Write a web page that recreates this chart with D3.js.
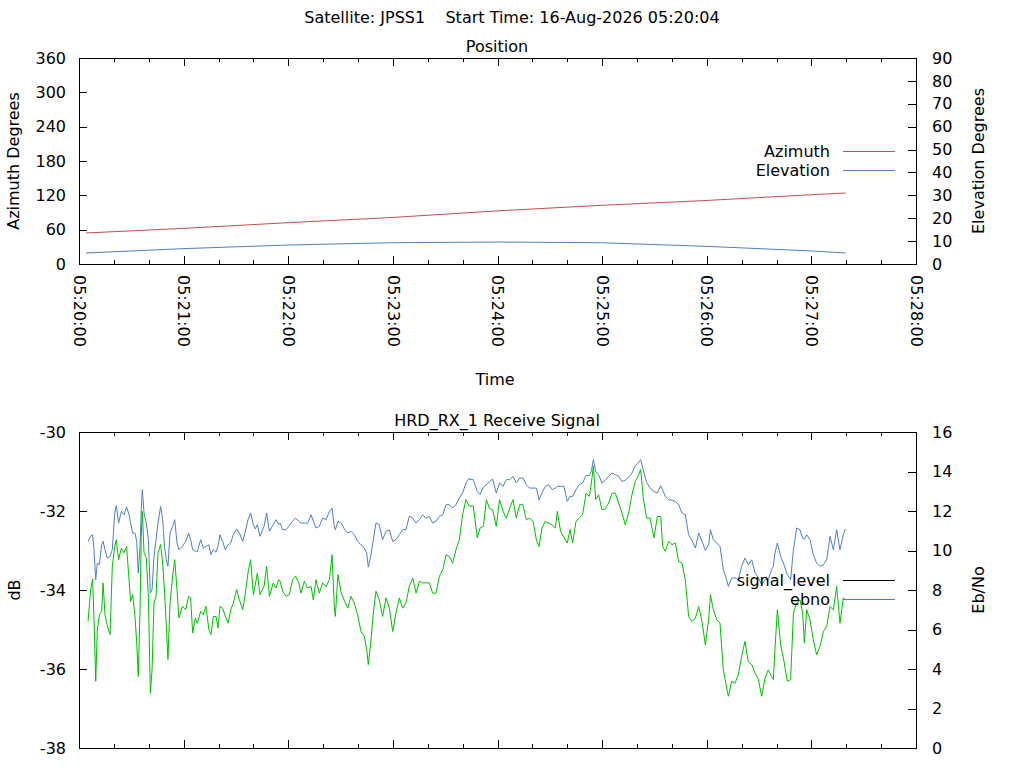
<!DOCTYPE html>
<html>
<head>
<meta charset="utf-8">
<script src="https://cdn.jsdelivr.net/npm/d3@7"></script>
<style>
  body { margin: 0; background: #fff; }
  svg text { font-family: "DejaVu Sans", sans-serif; font-size: 16px; fill: #000; }
</style>
</head>
<body>
<svg id="chart" width="1024" height="768"></svg>
<script>
// seconds after 05:20:00 for the position readings
const posSec = [4.0, 59.5, 120.0, 180.2, 241.4, 298.8, 360.3, 420.0, 439.7];
const azimuth = [54.2, 62.2, 72.2, 81.4, 93.1, 102.4, 111.1, 121.1, 124.1];
const elevation = [4.8, 6.7, 8.3, 9.3, 9.6, 9.3, 7.7, 5.7, 4.8];

// seconds after 05:20:00 for the receiver readings
const sigSec = [
  5.2, 6.7, 7.8, 8.6, 9.6, 10.5, 11.7, 13.0, 13.8, 14.9,
  16.2, 17.8, 19.1, 20.5, 21.4, 22.7, 24.3, 25.8, 27.3, 28.7,
  29.6, 30.8, 32.1, 33.1, 34.0, 35.0, 35.7, 36.3, 37.3, 38.6,
  39.8, 40.9, 41.9, 43.0, 44.2, 45.3, 46.8, 48.0, 49.1, 50.1,
  51.0, 52.2, 53.7, 54.9, 56.2, 57.3, 59.3, 61.2, 62.9, 64.0,
  65.2, 66.7, 67.9, 69.8, 71.3, 72.8, 74.5, 75.7, 77.0, 78.6,
  79.7, 80.9, 82.4, 83.9, 85.5, 87.0, 88.5, 90.4, 92.0, 93.9,
  95.4, 96.9, 98.4, 100.0, 101.1, 102.3, 103.8, 106.1, 107.6, 109.2,
  111.4, 113.0, 114.5,
  115.3, 116.8, 118.7, 120.6, 122.5, 124.1, 126.0, 127.3, 129.2, 131.1,
  133.1, 134.4, 135.9, 137.8, 139.7, 141.7, 143.6, 145.1, 146.4, 147.0,
  148.5, 150.4, 152.4, 154.1, 156.0, 157.9, 159.8, 161.7, 163.6, 165.0,
  165.9, 167.3, 168.8, 170.3, 172.2, 174.1, 176.1, 178.0, 179.9, 181.8,
  183.7, 185.6, 187.5, 189.4, 191.4, 193.3, 195.2, 197.1, 199.0, 200.9,
  202.8, 204.7, 206.7, 208.6, 210.5, 212.4, 214.3, 216.2, 218.1, 220.0,
  221.9, 223.9,
  224.2, 226.1, 228.4, 230.0, 231.9, 233.6, 235.3, 237.2, 239.3, 241.2,
  243.2, 245.1, 247.0, 248.9, 250.8, 252.7, 254.6, 256.5, 258.4, 260.4,
  262.3, 263.8, 265.5, 267.4, 269.3, 271.3, 273.2, 274.3, 276.2, 278.1,
  280.0, 281.6, 283.1, 285.0, 286.9, 288.8, 290.8, 292.7, 293.8, 295.0,
  296.3, 298.0, 299.9, 301.8, 303.7, 305.7, 307.6, 309.5, 311.4, 313.3,
  315.2, 317.1, 319.0, 320.6, 322.1, 323.6, 325.5, 327.5, 329.7, 331.7,
  333.6,
  334.7, 336.2, 338.2, 340.1, 342.0, 343.9, 345.8, 347.7, 349.6, 351.5,
  353.5, 355.4, 357.3, 359.2, 361.1, 362.1, 363.8, 365.7, 367.6, 369.5,
  371.4, 372.4, 374.3, 376.2, 378.1, 380.0, 381.9, 383.8, 385.8, 387.7,
  389.6, 391.5, 393.4, 395.3, 397.2, 398.2, 399.1, 400.5, 402.4, 404.3,
  406.2, 408.1, 409.7, 411.6, 413.5, 415.0, 416.0, 417.3, 419.2, 421.1,
  423.0, 424.9, 426.9, 428.8, 430.7, 432.6, 434.5, 436.4, 438.3, 439.5
];

const ebno = [
  10.46, 10.72, 10.80, 10.04, 8.52, 9.37, 9.28, 10.29, 10.46, 10.04,
  9.62, 9.70, 10.04, 11.90, 12.27, 11.39, 11.98, 11.81, 12.20, 11.81,
  11.39, 10.88, 10.88, 10.46, 8.86, 10.21, 12.07, 13.08, 11.90, 11.39,
  10.55, 7.85, 8.02, 9.70, 10.55, 11.39, 12.23, 11.56, 10.12, 9.53,
  9.20, 10.88, 11.22, 11.56, 10.38, 10.04, 10.21, 10.46, 10.88, 10.55,
  10.04, 9.96, 9.96, 10.55, 10.12, 10.21, 10.29, 9.79, 10.04, 9.91,
  10.21, 10.80, 10.46, 10.04, 10.29, 10.38, 10.80, 11.09, 10.88, 10.46,
  10.97, 11.56, 11.90, 11.31, 11.09, 11.31, 10.72, 11.22, 11.90, 10.97,
  11.31, 11.56, 11.31,
  11.39, 11.05, 11.05, 11.26, 11.48, 11.64, 11.48, 11.39, 11.39, 11.39,
  11.81, 11.48, 11.14, 11.22, 11.64, 11.56, 11.98, 12.15, 11.22, 11.05,
  11.48, 11.39, 11.05, 10.88, 10.97, 10.80, 10.46, 10.29, 10.13, 9.87,
  9.16, 9.70, 10.55, 11.39, 11.31, 10.55, 10.97, 11.05, 10.46, 10.55,
  10.80, 11.05, 11.05, 11.73, 11.64, 11.39, 11.56, 11.81, 11.64, 11.73,
  11.39, 11.48, 11.73, 11.81, 12.32, 12.32, 12.15, 12.32, 12.66, 12.91,
  13.42, 13.67,
  13.59, 13.59, 12.99, 12.83, 13.21, 13.33, 13.47, 13.62, 12.91, 13.42,
  13.25, 13.59, 13.59, 13.75, 13.42, 13.67, 13.67, 13.33, 13.16, 13.16,
  13.16, 12.57, 12.91, 13.25, 13.33, 13.08, 13.16, 13.25, 13.25, 13.25,
  12.49, 12.74, 12.74, 13.08, 13.33, 13.42, 13.79, 13.79, 14.01, 14.60,
  14.01, 13.84, 13.42, 13.55, 13.75, 13.92, 13.84, 13.75, 13.50, 13.55,
  13.72, 13.92, 14.29, 14.43, 14.60, 14.09, 13.45, 13.16, 12.99, 12.91,
  13.28,
  13.08, 12.74, 12.57, 12.54, 12.49, 12.32, 11.90, 11.81, 10.80, 10.51,
  10.13, 10.89, 10.46, 10.01, 10.29, 11.05, 10.55, 10.38, 10.21, 9.03,
  8.52, 8.18, 8.61, 8.61, 8.52, 9.20, 9.62, 9.28, 9.53, 8.86,
  8.61, 8.27, 8.52, 8.52, 9.03, 9.20, 9.87, 10.38, 9.70, 9.28,
  8.78, 8.52, 10.04, 11.14, 11.05, 10.63, 10.58, 10.80, 10.55, 9.79,
  9.37, 9.20, 9.28, 9.53, 10.72, 10.04, 11.05, 10.04, 10.80, 11.09
];

const signalLevel = [
  -34.79, -33.99, -33.72, -34.75, -36.31, -35.01, -34.63, -34.54, -33.82, -34.63,
  -34.90, -35.13, -33.40, -32.90, -32.73, -33.23, -32.94, -33.06, -32.90, -33.74,
  -34.29, -34.12, -34.67, -35.34, -36.19, -34.50, -32.64, -32.01, -33.06, -33.19,
  -34.16, -36.61, -36.02, -34.33, -34.16, -33.06, -32.85, -33.32, -34.08, -34.92,
  -35.76, -34.33, -33.65, -33.23, -33.99, -34.71, -34.41, -34.50, -34.16, -34.20,
  -35.09, -34.71, -34.84, -34.54, -34.63, -34.41, -35.01, -35.13, -34.67, -34.67,
  -34.96, -34.41, -34.46, -34.67, -34.84, -34.50, -34.33, -33.99, -34.25, -34.50,
  -34.08, -33.57, -33.23, -34.12, -33.87, -33.57, -34.12, -33.91, -33.40, -34.16,
  -33.82, -33.95, -33.74,
  -33.78, -34.03, -34.16, -34.12, -33.74, -33.65, -33.81, -34.08, -33.78, -33.95,
  -33.91, -34.25, -33.74, -34.08, -33.82, -33.91, -33.74, -33.11, -34.41, -34.67,
  -33.61, -34.08, -34.29, -34.46, -34.16, -34.33, -34.63, -35.05, -35.17, -35.51,
  -35.89, -35.34, -34.58, -34.03, -34.25, -34.67, -34.20, -34.46, -35.05, -34.58,
  -34.20, -34.46, -34.33, -33.91, -33.70, -34.08, -33.78, -33.82, -33.82, -33.82,
  -34.08, -34.08, -33.65, -33.49, -33.11, -33.15, -33.32, -32.98, -32.73, -32.09,
  -31.71, -31.88,
  -31.88, -31.87, -32.68, -32.43, -32.39, -31.71, -31.93, -31.97, -32.39, -31.71,
  -32.01, -32.18, -31.93, -31.71, -32.18, -31.84, -31.84, -32.22, -32.18, -32.26,
  -32.73, -32.90, -32.43, -32.26, -32.31, -32.35, -32.43, -32.01, -32.52, -32.68,
  -32.81, -32.47, -32.81, -32.26, -32.18, -32.09, -31.55, -31.63, -31.29, -30.87,
  -31.71, -31.59, -31.97, -31.95, -31.80, -31.55, -31.55, -31.80, -32.05, -32.35,
  -32.05, -31.59, -31.25, -31.12, -30.95, -31.67, -32.18, -32.18, -32.68, -32.14,
  -32.14,
  -32.90, -33.02, -32.77, -32.85, -32.81, -33.28, -33.32, -33.74, -34.67, -34.80,
  -34.71, -34.42, -34.80, -35.39, -34.75, -34.12, -34.50, -34.75, -34.84, -36.02,
  -36.48, -36.69, -36.31, -36.36, -36.15, -35.68, -35.30, -35.81, -35.89, -36.10,
  -36.27, -36.69, -36.23, -36.02, -36.19, -36.27, -35.51, -34.50, -35.39, -35.81,
  -36.31, -36.27, -34.58, -34.33, -34.25, -34.58, -35.34, -34.50, -34.75, -35.26,
  -35.64, -35.43, -35.05, -34.92, -34.42, -34.50, -33.91, -34.84, -34.20, -34.25
];

const azTicks = [0, 60, 120, 180, 240, 300, 360];
const elTicks = [0, 10, 20, 30, 40, 50, 60, 70, 80, 90];
const dbTicks = [-38, -36, -34, -32, -30];
const ebnoTicks = [0, 2, 4, 6, 8, 10, 12, 14, 16];

const svg = d3.select("#chart");

const t0 = new Date(Date.UTC(2026, 7, 16, 5, 20, 0));
const atSec = s => new Date(t0.getTime() + s * 1000);
const fmtTime = d3.utcFormat("%H:%M:%S");
const plainNum = d => String(d); // keeps the ASCII hyphen for negatives

const left = 79, right = 916;
const x = d3.scaleUtc().domain([t0, atSec(480)]).range([left, right]);

const top1 = { top: 58, bottom: 264 };
const top2 = { top: 432, bottom: 748 };

const yAz = d3.scaleLinear().domain([0, 360]).range([top1.bottom, top1.top]);
const yEl = d3.scaleLinear().domain([0, 90]).range([top1.bottom, top1.top]);
const yDb = d3.scaleLinear().domain([-38, -30]).range([top2.bottom, top2.top]);
const yEb = d3.scaleLinear().domain([0, 16]).range([top2.bottom, top2.top]);

const colRed = "#c0504d", colBlue = "#4f7fbf", colGreen = "#00c000";

function styleAxis(g) {
  g.select(".domain").remove();
  g.selectAll(".tick line").attr("stroke", "#000").attr("shape-rendering", "crispEdges");
  g.selectAll("text").attr("fill", "#000").style("font-size", "16px").style("font-family", "\"DejaVu Sans\", sans-serif");
}

function drawFrame(p, yl, yr, lTicks, rTicks, withLabels) {
  const h = p.bottom - p.top;

  // time ticks, minor every 20 s and major every minute, on bottom and top edges
  const minorB = svg.append("g").attr("transform", `translate(0,${p.bottom})`)
    .call(d3.axisBottom(x).ticks(d3.utcSecond.every(20)).tickSize(-4).tickFormat(""));
  styleAxis(minorB);
  const minorT = svg.append("g").attr("transform", `translate(0,${p.top})`)
    .call(d3.axisTop(x).ticks(d3.utcSecond.every(20)).tickSize(-4).tickFormat(""));
  styleAxis(minorT);

  const majorB = svg.append("g").attr("transform", `translate(0,${p.bottom})`)
    .call(d3.axisBottom(x).ticks(d3.utcMinute.every(1)).tickSize(-8)
      .tickFormat(withLabels ? fmtTime : ""));
  styleAxis(majorB);
  if (withLabels) {
    majorB.selectAll(".tick text")
      .attr("transform", "rotate(90)")
      .attr("x", 11)
      .attr("y", 0)
      .attr("dy", "0.36em")
      .attr("text-anchor", "start");
  }
  const majorT = svg.append("g").attr("transform", `translate(0,${p.top})`)
    .call(d3.axisTop(x).ticks(d3.utcMinute.every(1)).tickSize(-8).tickFormat(""));
  styleAxis(majorT);

  const la = svg.append("g").attr("transform", `translate(${left},0)`)
    .call(d3.axisLeft(yl).tickValues(lTicks).tickSize(-8).tickPadding(13).tickFormat(plainNum));
  styleAxis(la);
  const ra = svg.append("g").attr("transform", `translate(${right},0)`)
    .call(d3.axisRight(yr).tickValues(rTicks).tickSize(-8).tickPadding(16).tickFormat(plainNum));
  styleAxis(ra);

  svg.append("rect")
    .attr("x", left + 0.5).attr("y", p.top + 0.5)
    .attr("width", right - left).attr("height", h)
    .attr("fill", "none").attr("stroke", "#000").attr("stroke-width", 1)
    .attr("shape-rendering", "crispEdges");
}

function label(txt, xPos, yPos, rot) {
  const t = svg.append("text")
    .attr("text-anchor", "middle")
    .attr("dominant-baseline", "central")
    .style("white-space", "pre")
    .text(txt);
  if (rot) t.attr("transform", `translate(${xPos},${yPos}) rotate(${rot})`);
  else t.attr("x", xPos).attr("y", yPos);
  return t;
}

// titles and axis names
label("Satellite: JPSS1    Start Time: 16-Aug-2026 05:20:04", 512, 17);
label("Position", 497, 46);
label("Time", 495, 379);
label("HRD_RX_1 Receive Signal", 497, 420);
label("Azimuth Degrees", 13, 161, -90);
label("Elevation Degrees", 978, 161, -90);
label("dB", 14, 590, -90);
label("Eb/No", 978, 590, -90);

drawFrame(top1, yAz, yEl, azTicks, elTicks, true);
drawFrame(top2, yDb, yEb, dbTicks, ebnoTicks, false);

// position lines
const azData = posSec.map((s, i) => ({ t: atSec(s), v: azimuth[i] }));
const elData = posSec.map((s, i) => ({ t: atSec(s), v: elevation[i] }));

svg.append("path").datum(azData)
  .attr("fill", "none").attr("stroke", colRed).attr("stroke-width", 1)
  .attr("d", d3.line().x(d => x(d.t)).y(d => yAz(d.v)));
svg.append("path").datum(elData)
  .attr("fill", "none").attr("stroke", colBlue).attr("stroke-width", 1)
  .attr("d", d3.line().x(d => x(d.t)).y(d => yEl(d.v)));

// receive signal lines
const n = Math.min(sigSec.length, ebno.length, signalLevel.length);
const ebData = d3.range(n).map(i => ({ t: atSec(sigSec[i]), v: ebno[i] }));
const slData = d3.range(n).map(i => ({ t: atSec(sigSec[i]), v: signalLevel[i] }));

svg.append("path").datum(ebData)
  .attr("fill", "none").attr("stroke", colBlue).attr("stroke-width", 1)
  .attr("d", d3.line().x(d => x(d.t)).y(d => yEb(d.v)));
svg.append("path").datum(slData)
  .attr("fill", "none").attr("stroke", colGreen).attr("stroke-width", 1)
  .attr("d", d3.line().x(d => x(d.t)).y(d => yDb(d.v)));

// legends
function legendRow(txt, color, yPos) {
  svg.append("text")
    .attr("x", 830).attr("y", yPos)
    .attr("text-anchor", "end")
    .attr("dominant-baseline", "central")
    .text(txt);
  svg.append("line")
    .attr("x1", 843).attr("x2", 895)
    .attr("y1", yPos + 0.5).attr("y2", yPos + 0.5)
    .attr("stroke", color).attr("stroke-width", 1)
    .attr("shape-rendering", "crispEdges");
}
legendRow("Azimuth", colRed, 151);
legendRow("Elevation", colBlue, 170);
legendRow("signal_level", "#000", 580);
legendRow("ebno", colBlue, 599);
</script>
</body>
</html>
